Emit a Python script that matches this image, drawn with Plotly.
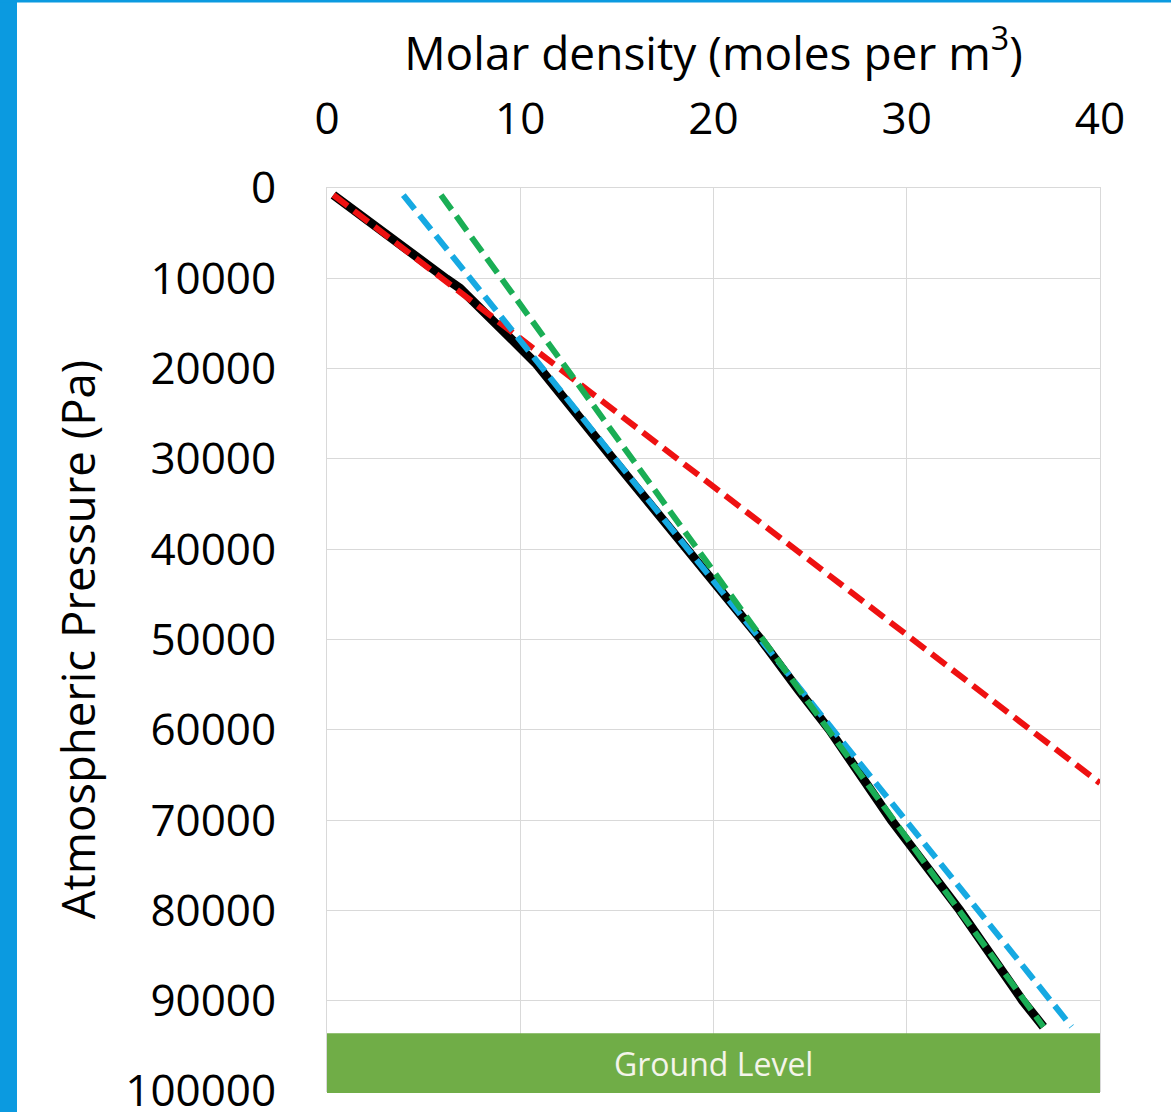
import plotly.graph_objects as go

# ---------------- data ----------------
measured_density = [0.33, 2.05, 3.78, 5.5, 6.19, 6.88, 8.4, 9.7, 10.8, 14.8,
                    18.6, 20.0, 22.45, 24.4, 26.0, 29.2, 30.0, 32.75, 36.0, 37.07]
measured_pressure = [775, 3540, 6500, 9080, 10080, 11100, 14250, 16830, 19400, 30000,
                     40000, 43400, 50000, 55600, 60000, 70000, 72200, 80000, 90000, 92880]

red_density = [0.33, 40.0]
red_pressure = [775, 65900]

blue_density = [3.95, 38.53]
blue_pressure = [780, 92880]

green_density = [5.9, 37.07]
green_pressure = [780, 92880]

x_ticks = [0, 10, 20, 30, 40]
y_ticks = [0, 10000, 20000, 30000, 40000, 50000, 60000, 70000, 80000, 90000, 100000]

ground_label = "Ground Level"
ground_pressure_top = 93600

# ---------------- layout geometry (pixels) ----------------
W, H = 1171, 1112
L, R, T, B = 327, 1100, 188, 1091


def px_x(p):
    return (p - L) / (R - L)


def px_y(p):
    return 1 - (p - T) / (B - T)


FONT = "Open Sans"
BLUE_FRAME = "#0b9ae0"
DASH = "18px,8px"

fig = go.Figure()

fig.add_trace(go.Scatter(
    x=measured_density, y=measured_pressure, mode="lines",
    line=dict(color="#000000", width=9), showlegend=False, name="measured"))
fig.add_trace(go.Scatter(
    x=red_density, y=red_pressure, mode="lines",
    line=dict(color="#ee1111", width=6, dash=DASH), showlegend=False, name="red"))
fig.add_trace(go.Scatter(
    x=blue_density, y=blue_pressure, mode="lines",
    line=dict(color="#16a9e2", width=6, dash=DASH), showlegend=False, name="blue"))
fig.add_trace(go.Scatter(
    x=green_density, y=green_pressure, mode="lines",
    line=dict(color="#1aae55", width=6, dash=DASH), showlegend=False, name="green"))

shapes = [
    # ground level band
    dict(type="rect", xref="paper", yref="paper",
         x0=0, x1=1, y0=-0.0022, y1=px_y(T + (ground_pressure_top / 100000) * (B - T)),
         fillcolor="#70ad47", line=dict(width=0), layer="above"),
    # blue frame: left stripe and top stripe
    dict(type="rect", xref="paper", yref="paper",
         x0=px_x(0), x1=px_x(17), y0=px_y(H + 5), y1=px_y(-5),
         fillcolor=BLUE_FRAME, line=dict(width=0), layer="above"),
    dict(type="rect", xref="paper", yref="paper",
         x0=px_x(0), x1=px_x(W + 5), y0=px_y(2.5), y1=px_y(-5),
         fillcolor=BLUE_FRAME, line=dict(width=0), layer="above"),
]

annotations = [
    dict(text=ground_label, xref="paper", yref="paper", x=0.5,
         y=(px_y(1033) + px_y(1093)) / 2, showarrow=False,
         xanchor="center", yanchor="middle",
         font=dict(family=FONT, size=32, color="#f4f4ea")),
]

fig.update_layout(
    width=W, height=H,
    margin=dict(l=L, r=W - R, t=T, b=H - B, pad=0, autoexpand=False),
    paper_bgcolor="#ffffff", plot_bgcolor="#ffffff",
    shapes=shapes, annotations=annotations,
    font=dict(family=FONT, color="#000000"),
    xaxis=dict(
        side="top", range=[0, 40], tickvals=x_ticks,
        ticktext=[str(v) for v in x_ticks],
        showgrid=True, gridcolor="#d9d9d9", gridwidth=1,
        showline=True, linecolor="#d9d9d9", linewidth=1, mirror=True,
        zeroline=False, ticks="", ticklabelstandoff=35,
        ticklabeloverflow="allow", automargin=False,
        tickfont=dict(family=FONT, size=44, color="#000000"),
        title=dict(text="Molar density (moles per m<sup>3</sup>)",
                   font=dict(family=FONT, size=46, color="#000000"), standoff=2),
    ),
    yaxis=dict(
        range=[100000, 0], tickvals=y_ticks,
        ticktext=[str(v) for v in y_ticks],
        showgrid=True, gridcolor="#d9d9d9", gridwidth=1,
        showline=True, linecolor="#d9d9d9", linewidth=1, mirror=True,
        zeroline=False, ticks="", ticklabelstandoff=41,
        ticklabeloverflow="allow", automargin=False,
        tickfont=dict(family=FONT, size=44, color="#000000"),
        title=dict(text="Atmospheric Pressure (Pa)",
                   font=dict(family=FONT, size=45.5, color="#000000"), standoff=15),
    ),
)

fig.write_html("out.html")
